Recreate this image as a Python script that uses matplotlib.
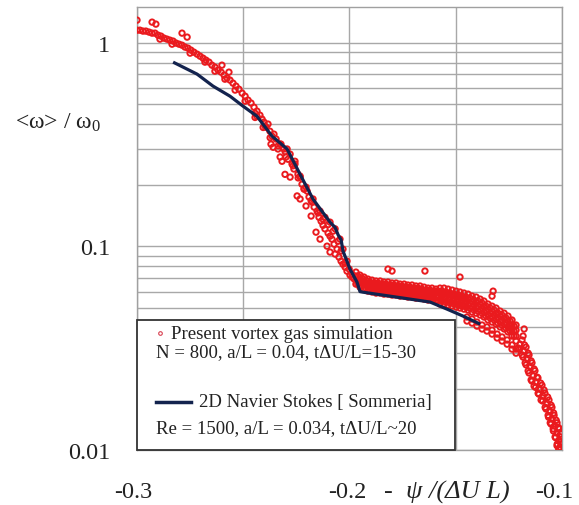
import matplotlib
matplotlib.use("Agg")
import matplotlib.pyplot as plt
from matplotlib.patches import Rectangle
from matplotlib.lines import Line2D
from matplotlib.ticker import FixedLocator, FixedFormatter, NullFormatter

plt.rcParams['font.family'] = ['Liberation Serif', 'DejaVu Serif']
plt.rcParams['mathtext.fontset'] = 'custom'
plt.rcParams['mathtext.rm'] = 'Liberation Serif'
plt.rcParams['mathtext.it'] = 'Liberation Serif:italic'

# ---------------- data: present vortex gas simulation ----------------
sim_top_x = [-0.3000, -0.2986, -0.2972, -0.2958, -0.2943, -0.2929, -0.2915, -0.2901, -0.2887, -0.2873,
             -0.2859, -0.2845, -0.2830, -0.2816, -0.2802, -0.2788, -0.2774, -0.2760, -0.2746, -0.2732,
             -0.2717, -0.2703, -0.2689, -0.2675, -0.2661, -0.2647, -0.2633, -0.2618, -0.2604, -0.2590,
             -0.2576, -0.2562, -0.2548, -0.2534, -0.2520, -0.2505, -0.2491, -0.2477, -0.2463, -0.2449,
             -0.2435, -0.2421,
             -0.2892, -0.2835, -0.2750, -0.2680, -0.2633, -0.2586, -0.2538, -0.2491, -0.2444]
sim_top_y = [1.154, 1.154, 1.142, 1.142, 1.129, 1.116, 1.116, 1.091, 1.079, 1.055,
             1.043, 1.031, 1.020, 0.997, 0.985, 0.974, 0.953, 0.942, 0.921, 0.900,
             0.880, 0.860, 0.841, 0.822, 0.804, 0.777, 0.760, 0.734, 0.718, 0.694,
             0.671, 0.656, 0.634, 0.613, 0.592, 0.566, 0.547, 0.523, 0.506, 0.483,
             0.462, 0.441,
             1.043, 0.985, 0.890, 0.804, 0.726, 0.663, 0.586, 0.517, 0.451]

sim_mid_x = [-0.2411, -0.2402, -0.2392, -0.2383, -0.2374, -0.2369, -0.2359, -0.2355, -0.2345, -0.2336,
             -0.2326, -0.2322, -0.2317, -0.2308, -0.2303, -0.2298, -0.2289, -0.2279, -0.2279, -0.2270,
             -0.2261, -0.2256, -0.2246, -0.2242, -0.2232, -0.2232, -0.2223, -0.2213, -0.2204, -0.2199,
             -0.2190, -0.2180, -0.2176, -0.2166, -0.2157, -0.2152, -0.2143, -0.2138, -0.2133, -0.2124,
             -0.2115, -0.2105, -0.2100, -0.2091, -0.2091, -0.2082, -0.2072, -0.2067, -0.2058, -0.2049,
             -0.2039, -0.2030, -0.2020, -0.2011, -0.2001, -0.1997, -0.1987, -0.1978]
sim_mid_y = [0.422, 0.408, 0.385, 0.399, 0.368, 0.318, 0.307, 0.356, 0.337, 0.301,
             0.275, 0.318, 0.262, 0.301, 0.226, 0.275, 0.268, 0.219, 0.284, 0.254,
             0.240, 0.262, 0.177, 0.226, 0.171, 0.219, 0.202, 0.191, 0.158, 0.187,
             0.175, 0.141, 0.165, 0.156, 0.1175, 0.149, 0.139, 0.1086, 0.133, 0.127,
             0.122, 0.1003, 0.1162, 0.0938, 0.1123, 0.1086, 0.1026, 0.0917, 0.0970, 0.0886,
             0.0847, 0.0818, 0.0791, 0.0756, 0.0774, 0.0723, 0.0707, 0.0693]

# points lying along the upper edge of the steep part (on the Navier-Stokes curve)
sim_edge_x = [-0.2435, -0.2397, -0.2364, -0.2326, -0.2293, -0.2256, -0.2232, -0.2204, -0.2171,
              -0.2138, -0.2115, -0.2091, -0.2067, -0.2044, -0.2030, -0.2011, -0.1987,
              -0.2444, -0.2406, -0.2373, -0.2335, -0.2302, -0.2265, -0.2241, -0.2213, -0.2180,
              -0.2147, -0.2124, -0.2100, -0.2076, -0.2053, -0.2039, -0.2020]
sim_edge_y = [0.436, 0.390, 0.348, 0.318, 0.301, 0.254, 0.2215, 0.1955, 0.171,
              0.149, 0.139, 0.1316, 0.122, 0.1086, 0.0970, 0.0847, 0.0731,
              0.430, 0.384, 0.342, 0.312, 0.292, 0.249, 0.217, 0.192, 0.168,
              0.146, 0.136, 0.128, 0.119, 0.106, 0.095, 0.083]

sim_plat_x = [-0.1969, -0.1950, -0.1931, -0.1912, -0.1893, -0.1874, -0.1855, -0.1837, -0.1818, -0.1799,
              -0.1780, -0.1761, -0.1742, -0.1724, -0.1705, -0.1686, -0.1667, -0.1648, -0.1629, -0.1611,
              -0.1592, -0.1573, -0.1554, -0.1535, -0.1516, -0.1497, -0.1479, -0.1460, -0.1441, -0.1422,
              -0.1403, -0.1384, -0.1366, -0.1347, -0.1328, -0.1309, -0.1290, -0.1271, -0.1253, -0.1234,
              -0.1215]
sim_plat_y = [[0.0748, 0.0715, 0.0683, 0.0653], [0.0723, 0.0691, 0.0661, 0.0631],
              [0.0707, 0.0676, 0.0646, 0.0617], [0.0691, 0.0661, 0.0631, 0.0603],
              [0.0683, 0.0653, 0.0624, 0.0597], [0.0676, 0.0646, 0.0617, 0.0590],
              [0.0676, 0.0646, 0.0617, 0.0590], [0.0668, 0.0639, 0.0610, 0.0583],
              [0.0668, 0.0639, 0.0610, 0.0583], [0.0661, 0.0631, 0.0603, 0.0577],
              [0.0661, 0.0631, 0.0603, 0.0577], [0.0653, 0.0624, 0.0597, 0.0570],
              [0.0653, 0.0624, 0.0597, 0.0570], [0.0646, 0.0617, 0.0590, 0.0564],
              [0.0646, 0.0617, 0.0590, 0.0564], [0.0639, 0.0610, 0.0583, 0.0557],
              [0.0639, 0.0610, 0.0583, 0.0557], [0.0631, 0.0603, 0.0577, 0.0551],
              [0.0624, 0.0597, 0.0570, 0.0545], [0.0624, 0.0597, 0.0570, 0.0545],
              [0.0617, 0.0590, 0.0564, 0.0539], [0.0624, 0.0590, 0.0551, 0.0521],
              [0.0624, 0.0590, 0.0551, 0.0521], [0.0617, 0.0583, 0.0545, 0.0515],
              [0.0610, 0.0577, 0.0539, 0.0509], [0.0603, 0.0570, 0.0533, 0.0503],
              [0.0597, 0.0564, 0.0527, 0.0498], [0.0590, 0.0557, 0.0521, 0.0492],
              [0.0583, 0.0551, 0.0515, 0.0487], [0.0570, 0.0539, 0.0503, 0.0476],
              [0.0564, 0.0533, 0.0498, 0.0470], [0.0551, 0.0521, 0.0487, 0.0460],
              [0.0539, 0.0509, 0.0476, 0.0450], [0.0521, 0.0492, 0.0460, 0.0435],
              [0.0509, 0.0481, 0.0450, 0.0425], [0.0498, 0.0470, 0.0440, 0.0415],
              [0.0481, 0.0455, 0.0425, 0.0402], [0.0470, 0.0445, 0.0415, 0.0393],
              [0.0455, 0.0430, 0.0402, 0.0380], [0.0435, 0.0411, 0.0384, 0.0363],
              [0.0411, 0.0388, 0.0363, 0.0343]]

# plateau, interleaved columns
sim_plat2_x = [-0.1960, -0.1941, -0.1922, -0.1903, -0.1884, -0.1865, -0.1846, -0.1827, -0.1808, -0.1789,
               -0.1771, -0.1752, -0.1733, -0.1714, -0.1695, -0.1676, -0.1658, -0.1639, -0.1620, -0.1601,
               -0.1582, -0.1564, -0.1545, -0.1526, -0.1507, -0.1488, -0.1469, -0.1450, -0.1432, -0.1413,
               -0.1394, -0.1375, -0.1356, -0.1337, -0.1318, -0.1300, -0.1281, -0.1262, -0.1243, -0.1224]
sim_plat2_y = [[0.0715, 0.0683, 0.0653], [0.0699, 0.0668, 0.0639], [0.0683, 0.0653, 0.0624],
               [0.0668, 0.0639, 0.0610], [0.0661, 0.0631, 0.0603], [0.0661, 0.0631, 0.0603],
               [0.0653, 0.0624, 0.0597], [0.0653, 0.0624, 0.0597], [0.0646, 0.0617, 0.0590],
               [0.0646, 0.0617, 0.0590], [0.0639, 0.0610, 0.0583], [0.0639, 0.0610, 0.0583],
               [0.0631, 0.0603, 0.0577], [0.0631, 0.0603, 0.0577], [0.0624, 0.0597, 0.0570],
               [0.0624, 0.0597, 0.0570], [0.0617, 0.0590, 0.0564], [0.0610, 0.0583, 0.0557],
               [0.0610, 0.0583, 0.0557], [0.0603, 0.0577, 0.0551], [0.0603, 0.0570, 0.0539],
               [0.0603, 0.0570, 0.0539], [0.0597, 0.0564, 0.0533], [0.0590, 0.0557, 0.0527],
               [0.0583, 0.0551, 0.0521], [0.0577, 0.0545, 0.0515], [0.0570, 0.0539, 0.0509],
               [0.0564, 0.0533, 0.0503], [0.0557, 0.0527, 0.0498], [0.0545, 0.0515, 0.0487],
               [0.0539, 0.0509, 0.0481], [0.0527, 0.0498, 0.0470], [0.0509, 0.0481, 0.0455],
               [0.0498, 0.0470, 0.0445], [0.0487, 0.0460, 0.0435], [0.0470, 0.0445, 0.0420],
               [0.0460, 0.0435, 0.0411], [0.0445, 0.0420, 0.0397], [0.0430, 0.0406, 0.0384],
               [0.0406, 0.0384, 0.0363]]

sim_low_x = [-0.1446, -0.1422, -0.1399, -0.1375, -0.1352, -0.1328, -0.1304, -0.1281, -0.1257, -0.1234, -0.1215]
sim_low_y = [[0.0450, 0.0430], [0.0440, 0.0420], [0.0425, 0.0406], [0.0411, 0.0393],
             [0.0402, 0.0384], [0.0388, 0.0371], [0.0371, 0.0355], [0.0359, 0.0343],
             [0.0347, 0.0331], [0.0328, 0.0313], [0.0313, 0.0299]]

sim_tail_x = [[-0.1187, -0.1196, -0.1205], [-0.1168, -0.1177, -0.1186], [-0.1154, -0.1163, -0.1172],
              [-0.1140, -0.1149, -0.1158], [-0.1126, -0.1135, -0.1144], [-0.1112, -0.1121, -0.1130],
              [-0.1093, -0.1102, -0.1111], [-0.1079, -0.1088, -0.1097], [-0.1060, -0.1069, -0.1078],
              [-0.1046, -0.1055, -0.1064], [-0.1036, -0.1045, -0.1054], [-0.1022, -0.1031, -0.1040],
              [-0.1013, -0.1022, -0.1031], [-0.1005, -0.1012, -0.1021], [-0.1004, -0.1008, -0.1014]]
sim_tail_y = [[0.0347, 0.0331, 0.0317], [0.0320, 0.0306, 0.0293], [0.0293, 0.0280, 0.0268],
              [0.0268, 0.0256, 0.0245], [0.0245, 0.0231, 0.0221], [0.0226, 0.0216, 0.0206],
              [0.0208, 0.0199, 0.0190], [0.0190, 0.0184, 0.0176], [0.0176, 0.0170, 0.0162],
              [0.0162, 0.0155, 0.0148], [0.0148, 0.0142, 0.0136], [0.0136, 0.0131, 0.0127],
              [0.0127, 0.0121, 0.0116], [0.0116, 0.0112, 0.0107], [0.0107, 0.0103, 0.0101]]

# tail, interleaved pairs
sim_tail2_x = [[-0.1175, -0.1199], [-0.1158, -0.1182], [-0.1144, -0.1168], [-0.1130, -0.1154],
               [-0.1116, -0.1140], [-0.1099, -0.1123], [-0.1083, -0.1107], [-0.1066, -0.1090],
               [-0.1050, -0.1074], [-0.1038, -0.1062], [-0.1026, -0.1050], [-0.1015, -0.1039],
               [-0.1005, -0.1029], [-0.1003, -0.1022]]
sim_tail2_y = [[0.0328, 0.0313], [0.0299, 0.0286], [0.0274, 0.0262], [0.0250, 0.0239],
               [0.0228, 0.0218], [0.0213, 0.0203], [0.0197, 0.0188], [0.0182, 0.0174],
               [0.0166, 0.0159], [0.0152, 0.0145], [0.0140, 0.0134], [0.0129, 0.0124],
               [0.0120, 0.0115], [0.0110, 0.0105]]

sim_out_x = [-0.3000, -0.2929, -0.2911, -0.2788, -0.2764, -0.2600, -0.2567, -0.1818, -0.1799,
             -0.1644, -0.1479, -0.1323, -0.1328, -0.1177, -0.1182]
sim_out_y = [1.293, 1.264, 1.236, 1.116, 1.067, 0.777, 0.718, 0.0774, 0.0757,
             0.0757, 0.0707, 0.0603, 0.0570, 0.0393, 0.0363]

# ---------------- data: 2D Navier Stokes (Sommeria) ----------------
ns_x = [-0.2830, -0.2717, -0.2642, -0.2562, -0.2501, -0.2435, -0.2364, -0.2293, -0.2232, -0.2171,
        -0.2091, -0.2067, -0.2053, -0.2039, -0.2030, -0.1997, -0.1964, -0.1950, -0.1936,
        -0.1620, -0.1540, -0.1465, -0.1384]
ns_y = [0.804, 0.702, 0.613, 0.547, 0.489, 0.436, 0.348, 0.301, 0.226, 0.1707,
        0.1316, 0.124, 0.114, 0.108, 0.095, 0.0774, 0.0668, 0.060, 0.0596,
        0.0533, 0.0492, 0.0455, 0.0415]

x_ticks = [-0.3, -0.2, -0.1]
x_tick_labels = ['-0.3', '-0.2', '-0.1']
x_label_shift = [-4, -2, -7]
x_minor = [-0.25, -0.15]
y_ticks = [0.01, 0.1, 1]
y_tick_labels = ['0.01', '0.1', '1']

legend_lines = ['Present vortex gas simulation',
                'N = 800, a/L = 0.04, t\u0394U/L=15-30',
                '2D Navier Stokes [ Sommeria]',
                'Re = 1500, a/L = 0.034, t\u0394U/L~20']

# ---------------- assemble scatter ----------------
sx, sy = [], []
sx += sim_top_x; sy += sim_top_y
sx += sim_mid_x; sy += sim_mid_y
sx += sim_edge_x; sy += sim_edge_y
for cols_x, cols_y in ((sim_plat_x, sim_plat_y), (sim_plat2_x, sim_plat2_y), (sim_low_x, sim_low_y)):
    for xv, ys in zip(cols_x, cols_y):
        sx += [xv] * len(ys); sy += ys
for xs, ys in list(zip(sim_tail_x, sim_tail_y)) + list(zip(sim_tail2_x, sim_tail2_y)):
    sx += xs; sy += ys
sx += sim_out_x; sy += sim_out_y

fig = plt.figure(figsize=(5.79, 5.06), dpi=100)
ax = fig.add_axes([137 / 579, 1 - 451 / 506, 424.7 / 579, 443 / 506])
ax.set_yscale('log')
ax.set_xlim(-0.3, -0.1)
ax.set_ylim(0.01, 1.5)

ax.xaxis.set_major_locator(FixedLocator(x_ticks))
ax.xaxis.set_major_formatter(NullFormatter())
ax.xaxis.set_minor_locator(FixedLocator(x_minor))
ax.yaxis.set_major_locator(FixedLocator(y_ticks))
ax.yaxis.set_major_formatter(FixedFormatter(y_tick_labels))
ax.yaxis.set_minor_locator(FixedLocator([m * d for d in (0.01, 0.1) for m in range(2, 10)]))
ax.yaxis.set_minor_formatter(NullFormatter())
ax.tick_params(which='both', length=0)
ax.tick_params(axis='y', labelsize=17.5, pad=19.5, labelcolor='#222222')

for xv, lab, dx in zip(x_ticks, x_tick_labels, x_label_shift):
    ax.annotate(lab, xy=(xv, 0), xycoords=('data', 'axes fraction'), xytext=(dx, -42),
                textcoords='offset pixels', ha='center', va='center', fontsize=17.5,
                color='#222222', annotation_clip=False)

ax.grid(which='both', axis='both', color='#a8a8a8', lw=1.0)
ax.set_axisbelow(True)
for s in ax.spines.values():
    s.set_color('#a0a0a0')
    s.set_linewidth(1.0)

ax.scatter(sx, sy, s=15, facecolors='none', edgecolors='#ea1a1e', linewidths=1.4, zorder=3)
ax.plot(ns_x, ns_y, color='#13234e', lw=2.3, zorder=4, solid_capstyle='butt')

# legend box
ax.add_patch(Rectangle((0, 0), 0.749, 0.2935, transform=ax.transAxes, facecolor='white',
                       edgecolor='#333333', lw=1.3, zorder=6, clip_on=False))
ax.plot([0.054], [0.264], 'o', transform=ax.transAxes, ms=2.6, mfc='none', mec='#d84050',
        mew=0.8, zorder=7, clip_on=False)
ax.add_line(Line2D([0.0447, 0.127], [0.1084, 0.1084], transform=ax.transAxes, color='#13234e',
                   lw=2.5, zorder=7, clip_on=False))
lkw = dict(transform=ax.transAxes, fontsize=13.5, va='center', ha='left', color='#222222', zorder=7)
ax.text(0.080, 0.264, legend_lines[0], **lkw)
ax.text(0.0447, 0.222, legend_lines[1], **lkw)
ax.text(0.146, 0.1084, legend_lines[2], **lkw)
ax.text(0.0447, 0.050, legend_lines[3], **lkw)

fig.text(58 / 579, 1 - 123 / 506, r'<ω> / ω$\mathregular{_0}$', fontsize=17, ha='center',
         va='center', color='#222222')
fig.text(447 / 579, 1 - 492 / 506, '-  \u03c8 /(\u0394U L)', fontsize=19, ha='center', va='center',
         style='italic', color='#222222')

fig.savefig('out.png', dpi=100)
